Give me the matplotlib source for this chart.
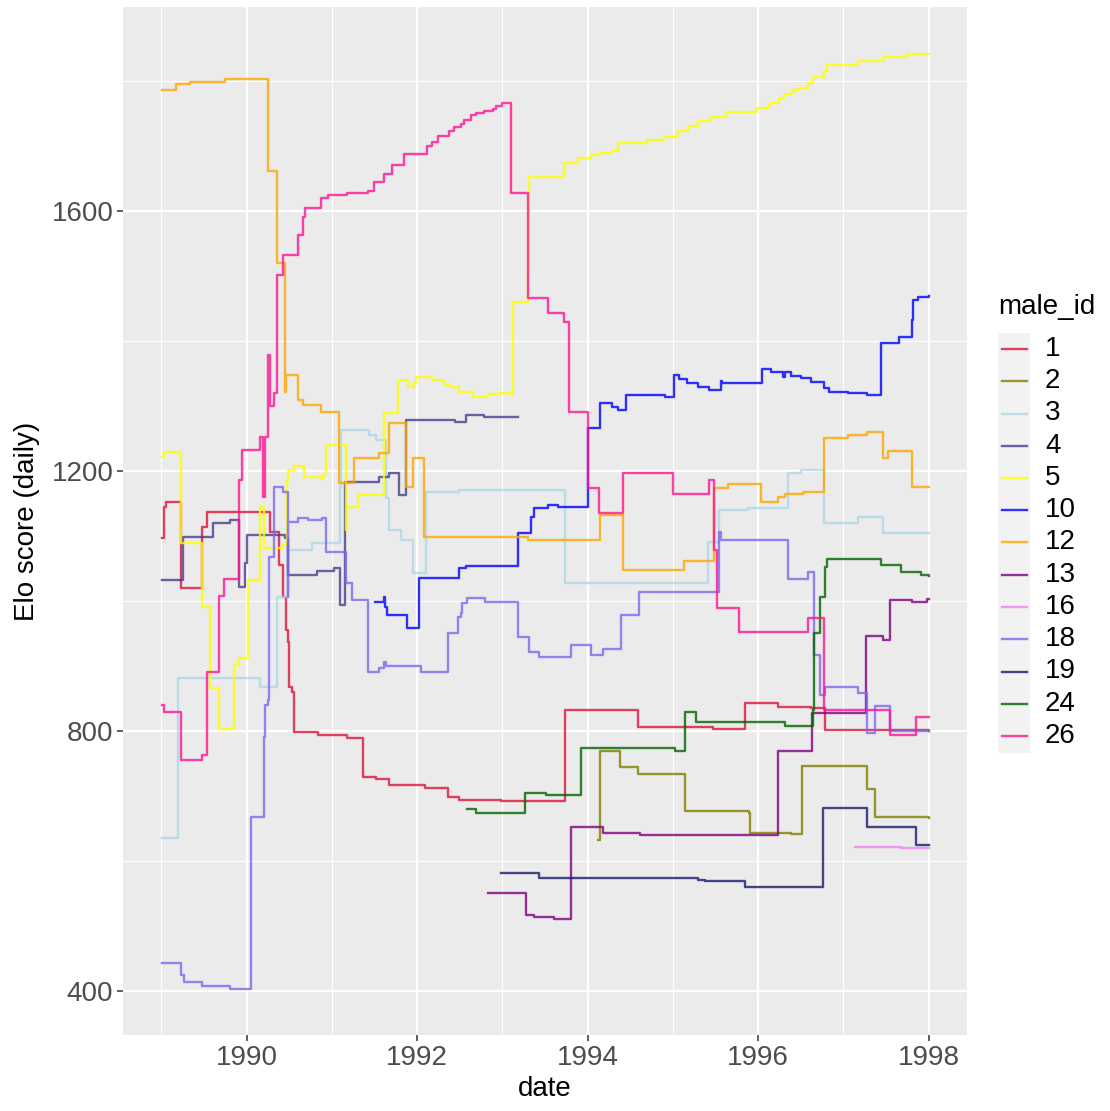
import matplotlib
matplotlib.use("Agg")
import matplotlib.pyplot as plt
from matplotlib.lines import Line2D
from matplotlib.patches import Rectangle
from matplotlib.ticker import MultipleLocator

plt.rcParams['font.family'] = ['Liberation Sans', 'DejaVu Sans']

# daily elo scores, stored as change points (decimal year, new score)
m1_date = [1989.01, 1989.03, 1989.05, 1989.23, 1989.48, 1989.54, 1990.28, 1990.38, 1990.43, 1990.46,
           1990.49, 1990.50, 1990.53, 1990.55, 1990.84, 1991.18, 1991.37, 1991.52, 1991.67, 1992.09,
           1992.36, 1992.49, 1992.98, 1993.74, 1994.59, 1995.47, 1995.85, 1996.23, 1996.62, 1996.79, 1998.0]
m1_elo = [1097, 1145, 1152, 1020, 1114, 1137, 1106, 1055, 1006, 955,
          937, 868, 860, 798, 794, 789, 729, 726, 717, 712,
          698, 694, 692, 832, 806, 803, 843, 837, 835, 801, 800]

m2_date = [1994.12, 1994.15, 1994.38, 1994.59, 1995.14, 1995.89, 1995.90, 1996.38, 1996.52, 1997.28,
           1997.37, 1998.0]
m2_elo = [632, 769, 745, 734, 677, 674, 643, 641, 746, 711, 668, 666]

m3_date = [1989.01, 1989.20, 1990.16, 1990.36, 1990.48, 1990.77, 1991.09, 1991.11, 1991.44, 1991.52,
           1991.63, 1991.67, 1991.81, 1991.95, 1992.10, 1992.49, 1993.74, 1995.41, 1995.54, 1995.88,
           1996.35, 1996.50, 1996.77, 1997.17, 1997.46, 1998.0]
m3_elo = [635, 882, 868, 1006, 1078, 1089, 1175, 1263, 1255, 1248,
          1158, 1109, 1094, 1043, 1168, 1171, 1028, 1091, 1140, 1143,
          1197, 1202, 1120, 1129, 1105, 1105]

m4_date = [1989.01, 1989.25, 1989.61, 1989.81, 1989.91, 1989.98, 1990.01, 1990.45, 1990.49, 1990.83,
           1991.02, 1991.10, 1991.15, 1991.55, 1991.67, 1991.79, 1991.87, 1992.45, 1992.57, 1992.78,
           1993.18]
m4_elo = [1032, 1098, 1120, 1125, 1022, 1058, 1102, 1097, 1040, 1046,
          1051, 994, 1183, 1191, 1197, 1163, 1278, 1275, 1286, 1283,
          1283]

m5_date = [1989.01, 1989.03, 1989.23, 1989.48, 1989.57, 1989.68, 1989.85, 1989.91, 1990.02, 1990.16,
           1990.20, 1990.43, 1990.46, 1990.47, 1990.48, 1990.55, 1990.67, 1990.87, 1990.90, 1990.93,
           1991.16, 1991.18, 1991.31, 1991.61, 1991.78, 1991.89, 1991.96, 1991.99, 1992.18, 1992.31,
           1992.39, 1992.49, 1992.66, 1992.83, 1992.98, 1993.10, 1993.12, 1993.30, 1993.31, 1993.72,
           1993.89, 1994.04, 1994.15, 1994.29, 1994.36, 1994.70, 1994.89, 1995.06, 1995.18, 1995.30,
           1995.44, 1995.62, 1995.99, 1996.11, 1996.15, 1996.24, 1996.30, 1996.40, 1996.47, 1996.59,
           1996.64, 1996.77, 1996.81, 1997.17, 1997.47, 1997.75, 1998.0]
m5_elo = [1222, 1229, 1089, 991, 866, 803, 902, 912, 1032, 1145,
          1082, 1086, 1094, 1186, 1202, 1208, 1191, 1188, 1194, 1240,
          1109, 1145, 1163, 1289, 1340, 1329, 1335, 1345, 1340, 1332,
          1329, 1322, 1314, 1318, 1320, 1317, 1460, 1509, 1652, 1674,
          1682, 1686, 1689, 1692, 1705, 1709, 1714, 1723, 1731, 1738,
          1745, 1752, 1758, 1763, 1766, 1774, 1780, 1786, 1789, 1797,
          1806, 1815, 1825, 1831, 1837, 1842, 1842]

m10_date = [1991.51, 1991.61, 1991.62, 1991.65, 1991.88, 1992.02, 1992.49, 1992.57, 1993.18, 1993.33,
            1993.37, 1993.53, 1993.65, 1994.00, 1994.15, 1994.29, 1994.36, 1994.45, 1994.91, 1995.01,
            1995.07, 1995.17, 1995.29, 1995.42, 1995.56, 1995.58, 1996.05, 1996.15, 1996.29, 1996.32,
            1996.38, 1996.50, 1996.62, 1996.77, 1996.83, 1997.05, 1997.28, 1997.44, 1997.65, 1997.81,
            1997.82, 1997.88, 1998.0]
m10_elo = [998, 1006, 991, 978, 958, 1035, 1051, 1054, 1105, 1129,
           1143, 1148, 1145, 1266, 1305, 1298, 1294, 1317, 1314, 1348,
           1342, 1335, 1329, 1325, 1338, 1335, 1357, 1352, 1345, 1352,
           1346, 1343, 1337, 1328, 1322, 1320, 1317, 1397, 1406, 1432,
           1463, 1468, 1469]

m12_date = [1989.01, 1989.17, 1989.34, 1989.75, 1990.25, 1990.36, 1990.45, 1990.46, 1990.60, 1990.66,
            1990.87, 1991.08, 1991.26, 1991.55, 1991.67, 1991.87, 1991.95, 1992.08, 1993.30, 1994.15,
            1994.42, 1995.13, 1995.48, 1995.65, 1996.03, 1996.23, 1996.32, 1996.53, 1996.77, 1997.06,
            1997.28, 1997.46, 1997.52, 1997.81, 1998.0]
m12_elo = [1786, 1795, 1798, 1803, 1662, 1520, 1322, 1348, 1309, 1302,
           1291, 1182, 1220, 1228, 1274, 1175, 1220, 1098, 1094, 1132,
           1048, 1062, 1174, 1180, 1152, 1160, 1165, 1168, 1251, 1255,
           1260, 1220, 1231, 1175, 1175]

m13_date = [1992.83, 1993.28, 1993.37, 1993.60, 1993.80, 1994.18, 1994.62, 1996.23, 1996.63, 1997.26,
            1997.47, 1997.55, 1997.81, 1997.98, 1998.0]
m13_elo = [551, 517, 514, 511, 652, 643, 640, 769, 828, 946,
           940, 1002, 998, 1003, 1003]

m16_date = [1997.14, 1997.67, 1998.0]
m16_elo = [622, 620, 620]

m18_date = [1989.01, 1989.23, 1989.26, 1989.48, 1989.81, 1990.05, 1990.20, 1990.22, 1990.25, 1990.26,
            1990.32, 1990.43, 1990.48, 1990.49, 1990.60, 1990.72, 1990.89, 1990.93, 1991.16, 1991.24,
            1991.42, 1991.55, 1991.61, 1991.63, 1992.04, 1992.36, 1992.48, 1992.51, 1992.53, 1992.59,
            1992.80, 1993.18, 1993.31, 1993.43, 1993.80, 1994.04, 1994.18, 1994.39, 1994.60, 1995.54,
            1995.56, 1996.35, 1996.59, 1996.65, 1996.73, 1996.79, 1997.17, 1997.28, 1997.37, 1997.55,
            1998.0]
m18_elo = [443, 425, 414, 408, 403, 668, 791, 840, 848, 1068,
           1175, 1168, 1006, 1122, 1128, 1125, 1128, 1075, 1028, 1002,
           891, 897, 906, 900, 891, 951, 975, 982, 997, 1005,
           998, 945, 922, 914, 932, 917, 926, 978, 1014, 1106,
           1094, 1034, 1045, 917, 855, 868, 858, 797, 838, 800,
           800]

m19_date = [1992.98, 1993.43, 1995.29, 1995.38, 1995.85, 1996.76, 1997.28, 1997.85, 1998.0]
m19_elo = [582, 574, 571, 569, 560, 682, 652, 625, 625]

m24_date = [1992.59, 1992.69, 1993.27, 1993.51, 1993.92, 1995.03, 1995.14, 1995.27, 1996.32, 1996.64,
            1996.65, 1996.73, 1996.79, 1996.81, 1997.44, 1997.67, 1997.91, 1998.0]
m24_elo = [680, 674, 705, 702, 774, 769, 829, 814, 808, 832,
           951, 1006, 1052, 1065, 1055, 1045, 1040, 1038]

m26_date = [1989.01, 1989.03, 1989.23, 1989.48, 1989.54, 1989.68, 1989.74, 1989.91, 1989.95, 1990.16,
            1990.19, 1990.21, 1990.25, 1990.27, 1990.32, 1990.36, 1990.43, 1990.60, 1990.66, 1990.69,
            1990.87, 1990.95, 1991.18, 1991.42, 1991.49, 1991.61, 1991.71, 1991.85, 1992.12, 1992.18,
            1992.25, 1992.37, 1992.43, 1992.51, 1992.55, 1992.63, 1992.69, 1992.78, 1992.89, 1992.92,
            1993.00, 1993.10, 1993.30, 1993.54, 1993.72, 1993.78, 1994.00, 1994.13, 1994.42, 1995.00,
            1995.42, 1995.48, 1995.52, 1995.77, 1996.58, 1996.77, 1997.55, 1997.85, 1998.0]
m26_elo = [840, 829, 755, 763, 891, 1008, 1034, 1186, 1232, 1252,
           1160, 1252, 1378, 1300, 1320, 1502, 1532, 1563, 1591, 1604,
           1620, 1625, 1628, 1631, 1645, 1657, 1671, 1688, 1700, 1707,
           1715, 1723, 1729, 1734, 1740, 1748, 1751, 1754, 1757, 1762,
           1766, 1628, 1466, 1443, 1429, 1291, 1174, 1135, 1197, 1165,
           1186, 1078, 989, 952, 974, 832, 794, 822, 822]

male_ids = ['1', '2', '3', '4', '5', '10', '12', '13', '16', '18', '19', '24', '26']
colours = ['crimson', 'olive', 'lightblue', 'darkslateblue', 'yellow', 'blue', 'orange',
           'purple', 'violet', 'mediumslateblue', 'midnightblue', 'darkgreen', 'deeppink']
series = [(m1_date, m1_elo), (m2_date, m2_elo), (m3_date, m3_elo), (m4_date, m4_elo),
          (m5_date, m5_elo), (m10_date, m10_elo), (m12_date, m12_elo), (m13_date, m13_elo),
          (m16_date, m16_elo), (m18_date, m18_elo), (m19_date, m19_elo), (m24_date, m24_elo),
          (m26_date, m26_elo)]

W, H = 1110, 1111
fig = plt.figure(figsize=(W / 100, H / 100), dpi=100)
ax = fig.add_axes([123 / W, 1 - 1035 / H, (967 - 123) / W, (1035 - 7) / H])
ax.set_facecolor('#EBEBEB')
for s in ax.spines.values():
    s.set_visible(False)

ax.xaxis.set_major_locator(MultipleLocator(2))
ax.xaxis.set_minor_locator(MultipleLocator(1))
ax.yaxis.set_major_locator(MultipleLocator(400))
ax.yaxis.set_minor_locator(MultipleLocator(200))
ax.grid(which='major', color='white', lw=1.6)
ax.grid(which='minor', color='white', lw=0.8)
ax.set_axisbelow(True)
ax.tick_params(which='major', length=4, width=1.1, color='#333333', labelsize=20,
               labelcolor='#4D4D4D', pad=3)
ax.tick_params(which='minor', length=0)

lw = 1.7
for (d, e), c in zip(series, colours):
    ax.plot(d, e, drawstyle='steps-post', color=c, lw=lw, alpha=0.8)

ax.set_xlim(1988.55, 1998.45)
ax.set_ylim(332, 1914)
ax.set_xlabel('date', fontsize=20, labelpad=4)
ax.set_ylabel('Elo score (daily)', fontsize=20, labelpad=8)

# legend drawn in figure pixels
tr = fig.transFigure
fig.text(998 / W, 1 - 307 / H, 'male_id', fontsize=20, va='center', ha='left')
fig.add_artist(Rectangle((998 / W, 1 - 753 / H), 32 / W, 420 / H, transform=tr,
                         facecolor='#F2F2F2', edgecolor='none'))
for i, (mid, c) in enumerate(zip(male_ids, colours)):
    y = 1 - (349 + i * 32.25) / H
    fig.add_artist(Line2D([1002 / W, 1027 / W], [y, y], transform=tr, color=c, lw=lw, alpha=0.8))
    fig.text(1045 / W, y, mid, fontsize=20, va='center', ha='left')

fig.savefig('out.png', dpi=100)
